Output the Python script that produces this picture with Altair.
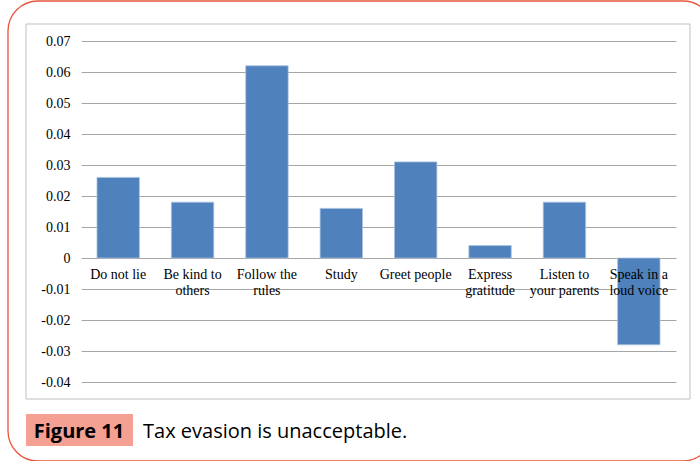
import altair as alt
import pandas as pd

categories = ["Do not lie", "Be kind to others", "Follow the rules", "Study",
              "Greet people", "Express gratitude", "Listen to your parents",
              "Speak in a loud voice"]
labels = ["Do not lie", "Be kind to\nothers", "Follow the\nrules", "Study",
          "Greet people", "Express\ngratitude", "Listen to\nyour parents",
          "Speak in a\nloud voice"]
values = [0.026, 0.018, 0.062, 0.016, 0.031, 0.004, 0.018, -0.028]
y_ticks = [-0.04, -0.03, -0.02, -0.01, 0, 0.01, 0.02, 0.03, 0.04, 0.05, 0.06, 0.07]
caption_bold = "Figure 11"
caption_text = "Tax evasion is unacceptable."

df = pd.DataFrame({"cat": categories, "value": values, "label": labels,
                   "zero": [0] * len(categories)})

W, H = 595, 341
serif = "Liberation Serif"

xscale = alt.Scale(domain=categories, paddingInner=0.43, paddingOuter=0.215)
yscale = alt.Scale(domain=[-0.04, 0.07], nice=False, zero=False)
yaxis = alt.Axis(
    values=y_ticks, title=None, domain=False, ticks=False, grid=True,
    gridColor="#A6A6A6", gridWidth=1, labelPadding=11, labelOverlap=False,
    labelFont=serif, labelFontSize=14, labelColor="#000000",
    labelExpr="datum.value == 0 ? '0' : replace(format(datum.value, '.2f'), '\u2212', '-')")

bars = alt.Chart(df).mark_bar(color="#4F81BD", stroke="#A9C1DE", strokeWidth=0.8).encode(
    x=alt.X("cat:N", scale=xscale, axis=None, sort=categories),
    y=alt.Y("value:Q", scale=yscale, axis=yaxis),
)

xlabels = alt.Chart(df).mark_text(baseline="top", align="center", dy=10,
                                  lineBreak="\n", font=serif, fontSize=14,
                                  lineHeight=16, color="#000000").encode(
    x=alt.X("cat:N", scale=xscale, sort=categories, axis=None),
    y=alt.Y("zero:Q", scale=yscale, axis=yaxis),
    text="label:N",
)

one = pd.DataFrame({"a": [0]})

inner_box = alt.Chart(one).mark_rect(fill=None, stroke="#BFBFBF", strokeWidth=1).encode(
    x=alt.value(-55), x2=alt.value(609), y=alt.value(-17), y2=alt.value(358))

outer_box = alt.Chart(one).mark_rect(fill=None, stroke="#E8553E", strokeWidth=1.3,
                                     cornerRadius=30).encode(
    x=alt.value(-73), x2=alt.value(632), y=alt.value(-40), y2=alt.value(420))

cap_box = alt.Chart(one).mark_rect(fill="#F4A093").encode(
    x=alt.value(-55), x2=alt.value(52), y=alt.value(373), y2=alt.value(405))

cap_bold = alt.Chart(one).mark_text(text=caption_bold, font="Open Sans", fontWeight="bold",
                                    fontSize=20, align="center", baseline="middle",
                                    color="#000000").encode(
    x=alt.value(-2), y=alt.value(391))

cap_txt = alt.Chart(one).mark_text(text=caption_text, font="Open Sans",
                                   fontSize=20, align="left", baseline="middle",
                                   color="#000000").encode(
    x=alt.value(62), y=alt.value(391))

chart = alt.layer(inner_box, outer_box, bars, xlabels, cap_box, cap_bold, cap_txt).properties(
    width=W, height=H,
    autosize=alt.AutoSizeParams(type="none"),
    padding={"left": 81, "top": 41, "right": 24, "bottom": 79},
    background="white",
).configure_view(stroke=None)

chart.save("out.html", embed_options={"renderer": "svg", "actions": False})
